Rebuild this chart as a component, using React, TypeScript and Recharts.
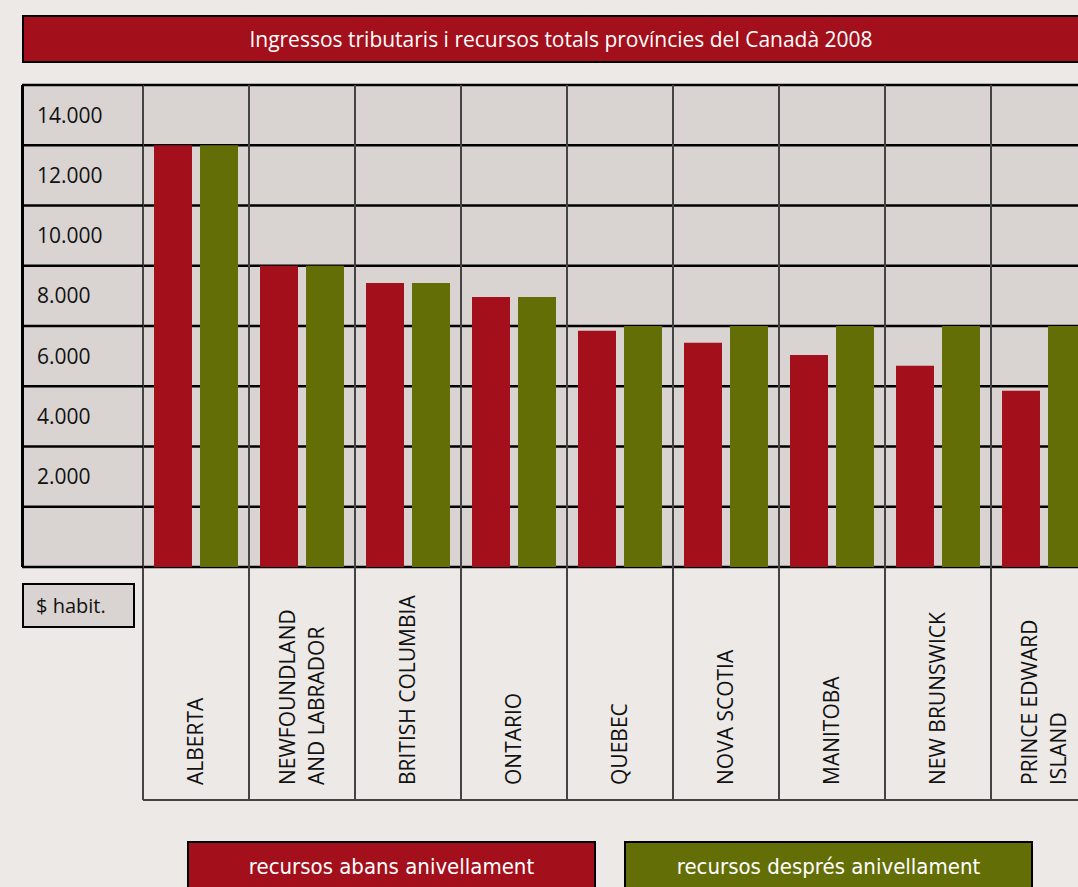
import { BarChart, Bar, XAxis, YAxis, CartesianGrid } from "recharts";

const provinces = [
  "ALBERTA",
  "NEWFOUNDLAND\nAND LABRADOR",
  "BRITISH COLUMBIA",
  "ONTARIO",
  "QUEBEC",
  "NOVA SCOTIA",
  "MANITOBA",
  "NEW BRUNSWICK",
  "PRINCE EDWARD\nISLAND",
];
const abansAnivellament = [14000, 10000, 9430, 8960, 7840, 7440, 7040, 6680, 5850];
const despresAnivellament = [14000, 10000, 9430, 8960, 8000, 8000, 8000, 8000, 8000];
const yTicks = [0, 2000, 4000, 6000, 8000, 10000, 12000, 14000, 16000];
const seriesNames = ["recursos abans anivellament", "recursos després anivellament"];

const TITLE = "Ingressos tributaris i recursos totals províncies del Canadà 2008";
const UNIT = "$ habit.";

const RED = "#a30f1b";
const GREEN = "#646e07";
const BG = "#ece9e7";
const PLOT = "#d9d4d2";
const FONT = "'Open Sans', sans-serif";
const INK = "#111";

const CHART_W = 1075;
const Y_W = 121;
const PLOT_TOP = 85;
const PLOT_BOTTOM = 567;
const AXIS_BOTTOM = 800;
const HALF_BAND = (CHART_W - Y_W) / provinces.length / 2;

const data = provinces.map((name, i) => ({
  name,
  abans: abansAnivellament[i],
  despres: despresAnivellament[i],
}));

const fmt = (v: number) => String(v).replace(/\B(?=(\d{3})+(?!\d))/g, ".");

function YTick(props: any) {
  const { y, payload } = props;
  const v = payload.value as number;
  return (
    <g>
      <line x1={0} x2={Y_W} y1={y} y2={y} stroke="#000" strokeWidth={2.5} />
      {v > 0 && v < 16000 && (
        <text x={15} y={y - 30} dy="0.35em" fontSize={21} fontFamily={FONT} fill={INK}>
          {fmt(v)}
        </text>
      )}
    </g>
  );
}

function XTick(props: any) {
  const { x, payload } = props;
  const lines = String(payload.value).split("\n");
  const lh = 29;
  const first = x - ((lines.length - 1) * lh) / 2;
  return (
    <g>
      <line x1={x - HALF_BAND} x2={x - HALF_BAND} y1={PLOT_BOTTOM} y2={AXIS_BOTTOM} stroke="#444" strokeWidth={2} />
      <line x1={x + HALF_BAND} x2={x + HALF_BAND} y1={PLOT_BOTTOM} y2={AXIS_BOTTOM} stroke="#444" strokeWidth={2} />
      <line x1={x - HALF_BAND} x2={x + HALF_BAND} y1={AXIS_BOTTOM} y2={AXIS_BOTTOM} stroke="#444" strokeWidth={2} />
      {lines.map((l, i) => {
        const lx = first + i * lh;
        return (
          <text
            key={i}
            x={lx}
            y={785}
            transform={`rotate(-90 ${lx} 785)`}
            textAnchor="start"
            dy="0.35em"
            fontSize={21}
            fontFamily={FONT}
            fill={INK}
          >
            {l}
          </text>
        );
      })}
    </g>
  );
}

export default function App() {
  const colors = [RED, GREEN];
  return (
    <div
      style={{
        position: "fixed",
        left: 0,
        top: 0,
        width: 1078,
        height: 887,
        overflow: "hidden",
        background: BG,
      }}
    >
      <div
        style={{
          position: "absolute",
          left: 22,
          top: 15,
          width: 1074,
          height: 44,
          background: RED,
          border: "2px solid #000",
          color: "#fff",
          fontFamily: FONT,
          fontSize: 21,
          lineHeight: "44px",
          textAlign: "center",
        }}
      >
        {TITLE}
      </div>
      <div
        style={{
          position: "absolute",
          left: 21,
          top: PLOT_TOP,
          width: Y_W + 1,
          height: PLOT_BOTTOM - PLOT_TOP,
          background: PLOT,
          borderLeft: "3px solid #000",
          boxSizing: "border-box",
        }}
      />
      <div
        style={{
          position: "absolute",
          left: 22,
          top: 583,
          width: 97,
          height: 41,
          background: PLOT,
          border: "2px solid #000",
          fontFamily: FONT,
          fontSize: 20,
          lineHeight: "41px",
          paddingLeft: 12,
          color: INK,
        }}
      >
        {UNIT}
      </div>
      <div style={{ position: "absolute", left: 22, top: 0 }}>
        <BarChart
          width={CHART_W}
          height={AXIS_BOTTOM + 2}
          data={data}
          margin={{ top: PLOT_TOP, right: 0, left: 0, bottom: 2 }}
          barCategoryGap={11}
          barGap={8}
        >
          <CartesianGrid
            horizontal
            vertical={false}
            stroke="#000"
            strokeWidth={2.5}
            fill={PLOT}
            fillOpacity={1}
          />
          <CartesianGrid
            horizontal={false}
            vertical
            stroke="#444"
            strokeWidth={2}
            verticalCoordinatesGenerator={({ offset }: any) =>
              Array.from({ length: provinces.length + 1 }, (_, i) => offset.left + (i * offset.width) / provinces.length)
            }
          />
          <XAxis
            dataKey="name"
            interval={0}
            height={AXIS_BOTTOM - PLOT_BOTTOM}
            axisLine={false}
            tickLine={false}
            tick={<XTick />}
          />
          <YAxis
            width={Y_W}
            domain={[0, 16000]}
            ticks={yTicks}
            interval={0}
            axisLine={false}
            tickLine={false}
            tick={<YTick />}
          />
          <Bar dataKey="abans" name={seriesNames[0]} fill={RED} isAnimationActive={false} />
          <Bar dataKey="despres" name={seriesNames[1]} fill={GREEN} isAnimationActive={false} />
        </BarChart>
      </div>
      {seriesNames.map((n, i) => (
        <div
          key={n}
          style={{
            position: "absolute",
            left: 187 + i * 437,
            top: 841,
            width: 405,
            height: 60,
            background: colors[i],
            border: "2px solid #000",
            color: "#fff",
            fontFamily: "'Liberation Sans Narrow', 'DejaVu Sans Condensed', sans-serif",
            fontSize: 22,
            textAlign: "center",
            lineHeight: "48px",
          }}
        >
          {n}
        </div>
      ))}
    </div>
  );
}
